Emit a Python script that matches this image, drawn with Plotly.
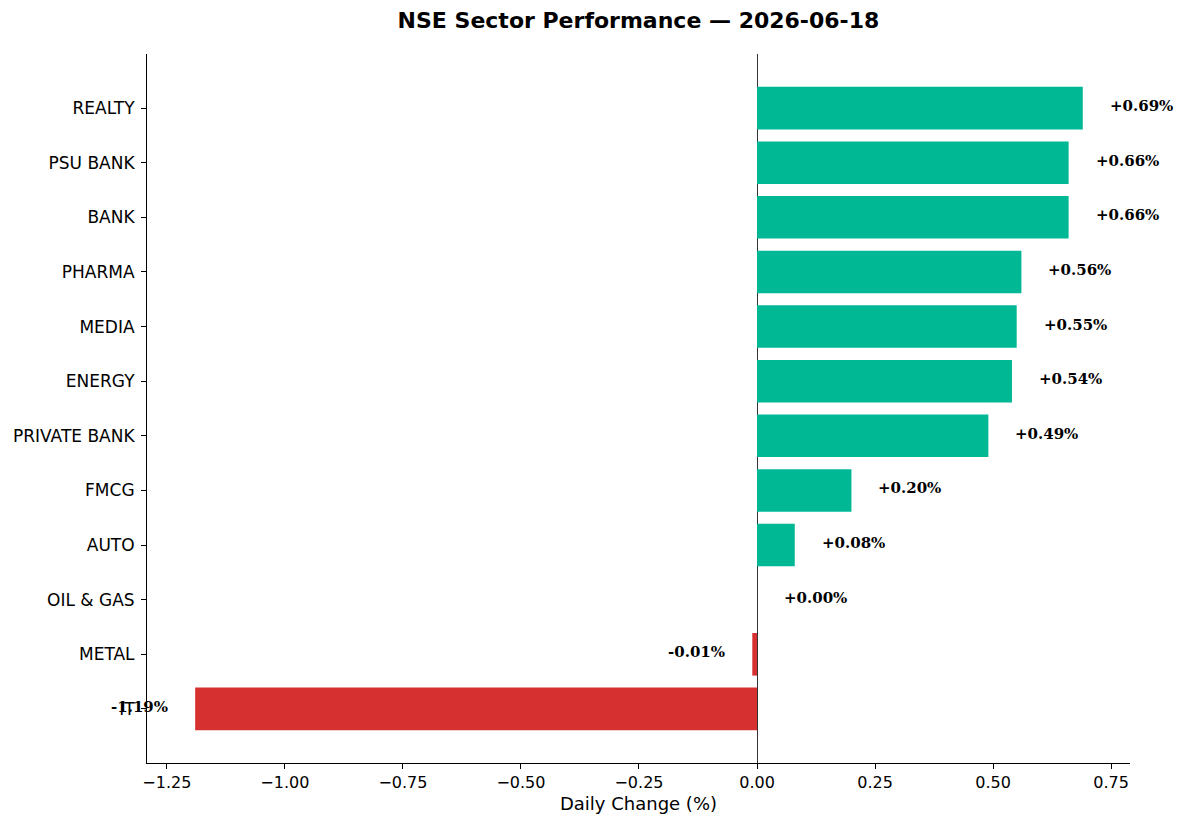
import plotly.graph_objects as go

sectors = ["IT", "METAL", "OIL & GAS", "AUTO", "FMCG", "PRIVATE BANK", "ENERGY",
           "MEDIA", "PHARMA", "BANK", "PSU BANK", "REALTY"]
changes = [-1.19, -0.01, 0.00, 0.08, 0.20, 0.49, 0.54, 0.55, 0.56, 0.66, 0.66, 0.69]
labels = ["%+.2f%%" % v for v in changes]
x_ticks = [-1.25, -1.00, -0.75, -0.50, -0.25, 0.00, 0.25, 0.50, 0.75]

GREEN = "#00b894"
RED = "#d63031"
colors = [GREEN if v >= 0 else RED for v in changes]

fig = go.Figure()
fig.add_trace(go.Bar(
    x=changes, y=list(range(len(sectors))), orientation="h",
    marker=dict(color=colors, line=dict(width=0)), width=0.78,
    hoverinfo="skip",
))

for i, (v, t) in enumerate(zip(changes, labels)):
    fig.add_annotation(
        x=v, y=i, text="<b>%s</b>" % t, showarrow=False,
        xanchor="left" if v >= 0 else "right",
        xshift=25 if v >= 0 else -25, yshift=2,
        font=dict(family="DejaVu Serif", size=15, color="black"),
    )

fig.update_layout(
    width=1185, height=828,
    margin=dict(l=147, r=55, t=54, b=65),
    paper_bgcolor="white", plot_bgcolor="white",
    showlegend=False,
    font=dict(family="DejaVu Sans", color="black"),
    title=dict(text="<b>NSE Sector Performance — 2026-06-18</b>",
               x=0.5, xanchor="center", y=0.975, yanchor="middle",
               xref="paper",
               font=dict(family="DejaVu Sans", size=22, color="black")),
)
fig.update_xaxes(
    range=[-1.292, 0.790], tickvals=x_ticks,
    ticktext=[("%.2f" % v).replace("-", "\u2212") for v in x_ticks],
    showgrid=False, zeroline=True, zerolinecolor="#333333", zerolinewidth=1,
    showline=True, linecolor="black", linewidth=1, mirror=False,
    ticks="outside", ticklen=5, tickcolor="black",
    tickfont=dict(size=16),
    title=dict(text="Daily Change (%)", font=dict(size=18), standoff=6),
)
fig.update_yaxes(
    range=[-0.99, 11.99], tickvals=list(range(len(sectors))), ticktext=sectors,
    showgrid=False, zeroline=False,
    showline=True, linecolor="black", linewidth=1,
    ticks="outside", ticklen=5, tickcolor="black",
    ticklabelstandoff=3,
    tickfont=dict(size=17),
)

fig.write_html("out.html")
